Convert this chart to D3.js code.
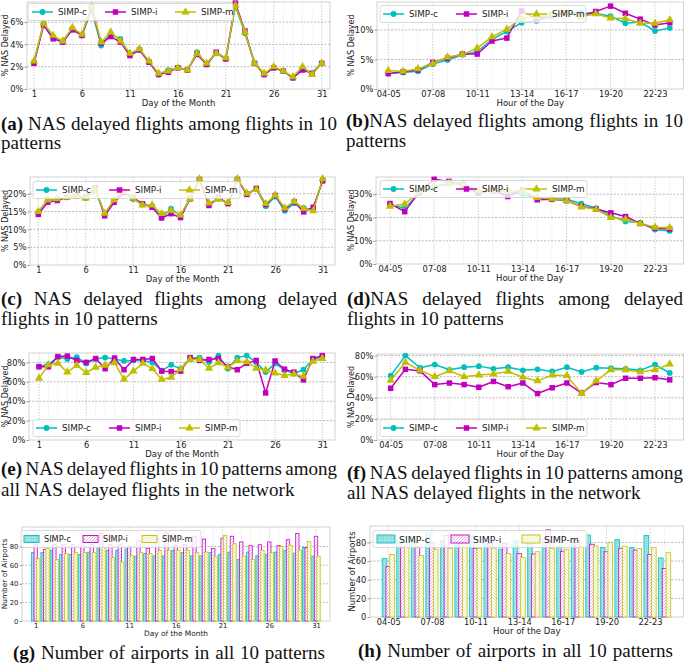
<!DOCTYPE html>
<html><head><meta charset="utf-8">
<script src="https://cdn.jsdelivr.net/npm/d3@7"></script>
<style>body{margin:0;background:#fff}svg{display:block}</style>
</head><body>
<svg id="c" width="685" height="663"></svg>
<script>
// ---------- categories ----------
const days = d3.range(1, 32);
const dayTicks = [1, 6, 11, 16, 21, 26, 31];
const hours = ["04-05","05-06","06-07","07-08","08-09","09-10","10-11","11-12","12-13","13-14",
               "14-15","15-16","16-17","17-18","18-19","19-20","20-21","21-22","22-23","23-24"];
const hourTicks = ["04-05","07-08","10-11","13-14","16-17","19-20","22-23"];
const seriesNames = ["SIMP-c", "SIMP-i", "SIMP-m"];

// ---------- (a) % NAS delayed among flights in 10 patterns, by day ----------
const aC = [2.4,5.9,4.6,4.3,5.4,4.8,7.1,3.9,4.9,4.5,3.1,3.5,2.4,1.3,1.7,1.9,1.7,3.3,2.2,3.2,2.7,7.4,5.0,2.3,1.3,1.9,1.6,1.0,1.9,1.4,2.3];
const aI = [2.3,5.7,4.5,4.2,5.3,4.8,7.4,4.1,4.7,4.2,3.0,3.5,2.4,1.3,1.5,1.9,1.7,3.1,2.2,3.3,2.7,7.7,5.2,2.3,1.3,1.9,1.6,1.0,1.7,1.4,2.3];
const aM = [2.5,5.9,4.8,4.3,5.5,4.9,7.4,4.2,5.1,4.3,3.2,3.6,2.5,1.4,1.6,1.9,1.7,3.2,2.3,3.2,2.8,7.5,5.1,2.3,1.4,2.0,1.6,1.1,2.0,1.3,2.3];
// ---------- (b) by hour ----------
const bC = [2.6,2.8,3.0,4.2,4.9,5.8,6.3,8.4,9.7,11.2,11.5,12.3,12.8,12.9,12.8,12.3,11.1,11.3,9.8,10.3];
const bI = [2.6,2.9,3.2,4.5,5.2,5.9,5.9,8.1,8.6,13.2,11.8,12.6,12.9,12.3,13.1,14.0,12.8,11.8,10.8,11.2];
const bM = [3.1,3.0,3.4,4.3,5.4,5.8,6.9,8.8,10.1,12.0,12.2,12.5,12.8,12.2,12.7,12.0,11.9,11.1,11.1,11.7];
// ---------- (c) NAS delayed among delayed, by day ----------
const cC = [14.8,18.2,18.5,19.0,19.5,18.8,21.0,14.2,18.2,20.5,18.5,17.0,16.5,13.3,15.8,13.8,18.6,24.0,17.0,18.6,17.4,24.0,20.0,21.3,16.5,19.2,15.2,17.3,16.0,15.5,24.0];
const cI = [14.2,17.6,18.1,19.0,19.3,19.0,21.7,13.8,17.6,20.3,18.9,17.2,16.2,13.2,14.4,13.3,18.6,24.0,16.7,19.0,17.2,24.0,19.8,21.5,17.0,19.5,15.7,17.7,14.9,16.2,23.6];
const cM = [15.0,18.3,18.6,19.0,19.5,18.8,21.3,14.5,18.3,20.7,18.7,16.8,16.8,14.4,15.3,14.0,18.6,24.2,17.4,18.5,17.5,24.2,20.1,21.2,17.2,19.6,16.0,17.8,15.8,15.2,24.2];
// ---------- (d) by hour ----------
const dC = [25.5,24.0,30.5,33.0,34.5,35.0,31.0,31.5,31.0,30.0,28.2,28.0,27.8,26.0,24.0,20.8,18.3,17.8,14.8,14.2];
const dI = [26.0,22.5,31.0,36.4,35.5,33.5,30.5,31.8,29.0,31.8,27.6,27.8,27.2,24.8,23.6,22.0,20.4,17.4,15.4,15.0];
const dM = [24.8,25.8,31.0,33.5,34.8,34.0,31.5,31.2,31.5,31.5,28.5,28.0,27.3,24.5,23.5,20.0,19.2,17.4,15.8,15.6];
// ---------- (e) share of all NAS delayed flights, by day ----------
const eC = [76,78,85.5,83.5,85.5,79,83.5,85,83.5,81.5,82,82,80,71.5,77.5,73.5,84,85,80.5,87,73.5,85,87,80,70,79,72,68.5,72.5,83,86];
const eI = [75.5,75.5,86,86.5,82,80,84,73.5,84.5,72.5,83,83,84,71,70.5,71,85,82,83,84,75.5,72.5,79,82,48.5,81.5,73,70,62,84,87];
const eM = [63.5,77.5,79,70,77,69.5,75,77,79.5,62.5,71,79,73.5,62.5,64.5,73,83,83,74,79.5,75,81.5,80.5,74,72,69,66.5,68,65.5,81,84];
// ---------- (f) by hour ----------
const fC = [61,80,68.5,71.5,66.5,69,70,67.5,69,66,67,65,69,64.5,68.5,68,67.5,66,71.5,63.5];
const fI = [49,67,65.5,52.5,54,52.5,50,55.5,50.5,54,44,49.5,54,44.5,54.5,52.5,58.5,58.5,59,57];
const fM = [56.5,73.5,66,60,65.5,60,61.5,62.5,65,59.5,56,61.5,61,44,56,66.5,66.5,64.5,66.5,72];
// ---------- (g) number of airports, by day ----------
const gC = [73.5,73.5,76,71.4,71.4,71.4,74,79,76,76,77.5,69.6,72.5,70,70,76,73.5,70,70,73.5,71.7,74,66,74,70,71.7,74,76,72.8,79,69.6];
const gI = [82,77,82,82,82,81,82,94.6,82,82,80,87,78,89,95,81,82,91,88,78,89,91,85,81,82,85,81,87.3,94,79,91];
const gM = [67,78,66,72.5,73.5,73.5,73.5,79,68,63.4,70,73.5,72.5,76,76,76,76,73.5,74,69.6,92,83,69.6,66,76,73.5,80,81.5,76,85.5,69.6];
// ---------- (h) number of airports, by hour ----------
const hC = [62.6,81.7,82,90,82,81.7,87,81,72.7,81.7,82,83.5,75.5,82,88,74.5,83,74.5,87.4,63.3];
const hI = [54,74.8,75,79.5,87.4,79,73.7,79,79,68,67.6,93.5,70.5,82,78,70,73.7,71.6,67,52];
const hM = [67,77,66,72.7,73.7,79,73.7,74,68,63.7,70,73.7,72.7,75.5,76,80,76,73.4,74.5,69];

const pctTicks2 = [0,2,4,6], pctTicks5 = [0,5,10], pctTicks5b = [0,5,10,15,20],
      pctTicks10 = [0,10,20,30], pctTicks20 = [0,20,40,60,80], cntTicks = [0,20,40,60,80];

// ---------- styling ----------
const COLORS = ["#00bfbf", "#bf00bf", "#bfbf00"];
const SYMBOLS = [d3.symbolCircle, d3.symbolSquare, d3.symbolTriangle];
const SYMSIZE = [26, 30, 30];
const SANS = "DejaVu Sans, sans-serif";
const SERIF = "Liberation Serif, Times New Roman, serif";

const svg = d3.select("#c");
const defs = svg.append("defs");
(function(){
  const p1 = defs.append("pattern").attr("id","hc").attr("patternUnits","userSpaceOnUse").attr("width",2.5).attr("height",2.5);
  p1.append("rect").attr("width",2.5).attr("height",2.5).attr("fill","#a6e4e4");
  p1.append("circle").attr("cx",1.25).attr("cy",1.25).attr("r",0.55).attr("fill","#3cc8c8");
  const p2 = defs.append("pattern").attr("id","hi").attr("patternUnits","userSpaceOnUse").attr("width",3).attr("height",3);
  p2.append("rect").attr("width",3).attr("height",3).attr("fill","#fff");
  p2.append("path").attr("d","M-1,1 L1,-1 M0,3 L3,0 M2,4 L4,2").attr("stroke","#e699e6").attr("stroke-width",0.8);
  const p3 = defs.append("pattern").attr("id","hm").attr("patternUnits","userSpaceOnUse").attr("width",3).attr("height",3);
  p3.append("rect").attr("width",3).attr("height",3).attr("fill","#fff");
  p3.append("path").attr("d","M-1,2 L1,4 M0,0 L3,3 M2,-1 L4,1").attr("stroke","#e0e08a").attr("stroke-width",0.8);
})();
const FILLS = ["url(#hc)", "url(#hi)", "url(#hm)"];

function frame(p, x, y, cats, ticks, yticks) {
  const g = svg.append("g");
  g.selectAll(".vg").data(cats).join("line")
    .attr("x1", (d,i)=>x(i)).attr("x2",(d,i)=>x(i)).attr("y1",p.T).attr("y2",p.B)
    .attr("stroke", d => ticks.includes(d) ? "#b8b8b8" : "#e2e2e2")
    .attr("stroke-width", 0.8).attr("stroke-dasharray","1.2,1.6");
  g.selectAll(".hg").data(yticks.filter(v=>v>0)).join("line")
    .attr("x1",p.L).attr("x2",p.R).attr("y1",d=>y(d)).attr("y2",d=>y(d))
    .attr("stroke","#a8a8a8").attr("stroke-width",0.8).attr("stroke-dasharray","2,1.5");
  g.append("rect").attr("x",p.L).attr("y",p.T).attr("width",p.R-p.L).attr("height",p.B-p.T)
    .attr("fill","none").attr("stroke","#cfcfcf").attr("stroke-width",0.9);
}

function drawAxes(p, xs, y, ticks, yticks, yfmt) {
  const fs = p.fs || 8.3;
  const xa = d3.axisBottom(xs).tickValues(ticks).tickSize(1.5).tickPadding(0.3);
  const gx = svg.append("g").attr("transform",`translate(0,${p.B})`).call(xa);
  const ya = d3.axisLeft(y).tickValues(yticks).tickFormat(yfmt).tickSize(2.5).tickPadding(1.2);
  const gy = svg.append("g").attr("transform",`translate(${p.L},0)`).call(ya);
  [gx, gy].forEach(a => {
    a.select(".domain").remove();
    a.selectAll(".tick line").attr("stroke","#999");
    a.selectAll("text").attr("font-family",SANS).attr("font-size",fs).attr("fill","#222");
  });
  svg.append("text").attr("x",(p.L+p.R)/2).attr("y",p.xtY).attr("text-anchor","middle")
    .attr("dominant-baseline","central").attr("font-family",SANS).attr("font-size",p.tfs||8.5)
    .attr("fill","#222").text(p.xTitle);
  svg.append("text").attr("transform",`translate(${p.ytX},${(p.T+p.B)/2}) rotate(-90)`)
    .attr("text-anchor","middle").attr("dominant-baseline","central").attr("font-family",SANS)
    .attr("font-size",p.ytfs||8).attr("fill","#222").text(p.yTitle);
}

function linePanel(p, cats, ticks, series, ymax, yticks) {
  const n = cats.length;
  const x = d3.scaleLinear().domain([0, n-1]).range([p.x0, p.x1]);
  const y = d3.scaleLinear().domain([0, ymax]).range([p.B, p.T]);
  frame(p, x, y, cats, ticks, yticks);
  const line = d3.line().x((d,i)=>x(i)).y(d=>y(d));
  series.forEach((vals, k) => {
    const g = svg.append("g");
    g.append("path").attr("d", line(vals)).attr("fill","none").attr("stroke",COLORS[k])
      .attr("stroke-width",1.5).attr("stroke-linejoin","round");
    g.selectAll("path.m").data(vals).join("path").attr("class","m")
      .attr("transform",(d,i)=>`translate(${x(i)},${y(d)})`)
      .attr("d", d3.symbol(SYMBOLS[k], SYMSIZE[k])).attr("fill",COLORS[k]);
  });
  const lg = svg.append("g");
  lg.append("rect").attr("x",p.lgBox[0]).attr("y",p.lgY-8.5).attr("width",p.lgBox[1]).attr("height",17)
    .attr("rx",2).attr("fill","#fff").attr("fill-opacity",0.8).attr("stroke","#d0d0d0").attr("stroke-width",0.8);
  seriesNames.forEach((nm,k) => {
    const lx = p.lgX + [0,73,143][k];
    lg.append("line").attr("x1",lx).attr("x2",lx+21).attr("y1",p.lgY).attr("y2",p.lgY)
      .attr("stroke",COLORS[k]).attr("stroke-width",1.5);
    lg.append("path").attr("transform",`translate(${lx+10.5},${p.lgY})`)
      .attr("d", d3.symbol(SYMBOLS[k], SYMSIZE[k])).attr("fill",COLORS[k]);
    lg.append("text").attr("x",lx+26).attr("y",p.lgY).attr("dominant-baseline","central")
      .attr("font-family",SANS).attr("font-size",8.8).attr("fill","#222").text(nm);
  });
  const xb = d3.scalePoint().domain(cats).range([p.x0, p.x1]);
  drawAxes(p, xb, y, ticks, yticks, d => d + "%");
}

function barPanel(p, cats, ticks, series, ymax, yticks) {
  const n = cats.length;
  const x = d3.scaleLinear().domain([0, n-1]).range([p.x0, p.x1]);
  const step = (p.x1 - p.x0) / (n - 1);
  const y = d3.scaleLinear().domain([0, ymax]).range([p.B, p.T]);
  frame(p, x, y, cats, ticks, yticks);
  const bw = step * p.bw, off = [-p.off, 0, p.off];
  series.forEach((vals, k) => {
    svg.append("g").selectAll("rect").data(vals).join("rect")
      .attr("x",(d,i)=>x(i) + off[k]*step - bw/2).attr("width",bw)
      .attr("y",d=>y(d)).attr("height",d=>p.B - y(d))
      .attr("fill",FILLS[k]).attr("stroke",COLORS[k]).attr("stroke-width",0.9)
      .attr("stroke-opacity",0.85);
  });
  const lg = svg.append("g");
  lg.append("rect").attr("x",p.lgBox[0]).attr("y",p.lgY-8.5).attr("width",p.lgBox[1]).attr("height",17)
    .attr("rx",2).attr("fill","#fff").attr("fill-opacity",0.8).attr("stroke","#d0d0d0").attr("stroke-width",0.8);
  seriesNames.forEach((nm,k) => {
    const lx = p.lgX + p.lgOff[k];
    lg.append("rect").attr("x",lx).attr("y",p.lgY-p.swH/2).attr("width",p.swW).attr("height",p.swH)
      .attr("fill",FILLS[k]).attr("stroke",COLORS[k]).attr("stroke-width",0.9);
    lg.append("text").attr("x",lx+p.swW+p.txtGap).attr("y",p.lgY).attr("dominant-baseline","central")
      .attr("font-family",SANS).attr("font-size",p.lfs).attr("fill","#222").text(nm);
  });
  const xb = d3.scalePoint().domain(cats).range([p.x0, p.x1]);
  drawAxes(p, xb, y, ticks, yticks, d => d);
}

// ---------- panels ----------
linePanel({L:27,R:330,T:2,B:89,x0:34,x1:321.7,xtY:103.3,ytX:5,xTitle:"Day of the Month",yTitle:"% NAS Delayed",
  lgX:32,lgY:12,lgBox:[28,205]}, days, dayTicks, [aC,aI,aM], 7.8, pctTicks2);
linePanel({L:377,R:683.5,T:2,B:89,x0:388.3,x1:669.8,xtY:103.3,ytX:351,xTitle:"Hour of the Day",yTitle:"% NAS Delayed",
  lgX:383,lgY:14,lgBox:[380,206]}, hours, hourTicks, [bC,bI,bM], 14.7, pctTicks5);
linePanel({L:30,R:335,T:177,B:265,x0:38.3,x1:322.7,xtY:278.6,ytX:5,xTitle:"Day of the Month",yTitle:"% NAS Delayed",
  lgX:36,lgY:190,lgBox:[33,207]}, days, dayTicks, [cC,cI,cM], 24.7, pctTicks5b);
linePanel({L:376,R:683.5,T:177,B:264,x0:390,x1:669.7,xtY:278.3,ytX:351,xTitle:"Hour of the Day",yTitle:"% NAS Delayed",
  lgX:383,lgY:189,lgBox:[380,207]}, hours, hourTicks, [dC,dI,dM], 37.4, pctTicks10);
linePanel({L:29,R:335,T:353,B:440,x0:39,x1:322.3,xtY:453.8,ytX:5,xTitle:"Day of the Month",yTitle:"% NAS Delayed",
  lgX:36,lgY:428,lgBox:[33,207]}, days, dayTicks, [eC,eI,eM], 89.7, pctTicks20);
linePanel({L:377,R:683.5,T:354,B:440,x0:390.7,x1:669.7,xtY:453.8,ytX:351.5,xTitle:"Hour of the Day",yTitle:"% NAS Delayed",
  lgX:383,lgY:428,lgBox:[380,207]}, hours, hourTicks, [fC,fI,fM], 81.5, pctTicks20);

barPanel({L:22,R:330,T:527,B:621,x0:35.7,x1:316,xtY:633.6,ytX:4,xTitle:"Day of the Month",yTitle:"Number of Airports",
  fs:6.8,tfs:7.4,ytfs:7.4,bw:0.36,off:0.27,lgX:24,lgY:539,lgBox:[21,180],lgOff:[0,59,118],swW:15,swH:7,txtGap:5,lfs:8.2},
  days, dayTicks, [gC,gI,gM], 101, cntTicks);
barPanel({L:370,R:683.5,T:526,B:617,x0:388.3,x1:664.6,xtY:631.4,ytX:352,xTitle:"Hour of the Day",yTitle:"Number of Airports",
  fs:8.3,tfs:8.5,ytfs:8.4,bw:0.32,off:0.26,lgX:377,lgY:539,lgBox:[373,214],lgOff:[0,74,145],swW:18,swH:8,txtGap:4,lfs:9.4},
  hours, hourTicks, [hC,hI,hM], 97.6, cntTicks);

// ---------- captions ----------
const CAPFS = 19;
function caption(x, y, label, rest, width) {
  const t = svg.append("text").attr("x",x).attr("y",y).attr("font-family",SERIF)
    .attr("font-size",CAPFS).attr("fill","#111");
  t.append("tspan").attr("font-weight","bold").text(label);
  t.append("tspan").text(rest);
  if (width) {
    const w = t.node().getComputedTextLength();
    const spaces = (label + rest).split(" ").length - 1;
    if (spaces > 0) t.style("word-spacing", ((width - w) / spaces) + "px");
  }
}
function plain(x, y, s) {
  svg.append("text").attr("x",x).attr("y",y).attr("font-family",SERIF).attr("font-size",CAPFS)
    .attr("fill","#111").text(s);
}
caption(1, 130, "(a)", " NAS delayed flights among flights in 10", 336);
plain(1, 149, "patterns");
caption(346, 127, "(b)", "NAS delayed flights among flights in 10", 337);
plain(346, 147, "patterns");
caption(1, 305, "(c)", " NAS delayed flights among delayed", 336);
plain(1, 325, "flights in 10 patterns");
caption(347, 305, "(d)", "NAS delayed flights among delayed", 336);
plain(347, 325, "flights in 10 patterns");
caption(1, 475, "(e)", " NAS delayed flights in 10 patterns among", 336);
plain(1, 496, "all NAS delayed flights in the network");
caption(347, 479, "(f)", " NAS delayed flights in 10 patterns among", 336);
plain(347, 499, "all NAS delayed flights in the network");
caption(13, 659, "(g)", " Number of airports in all 10 patterns", 312);
caption(358, 657, "(h)", " Number of airports in all 10 patterns", 315);
</script>
</body></html>
